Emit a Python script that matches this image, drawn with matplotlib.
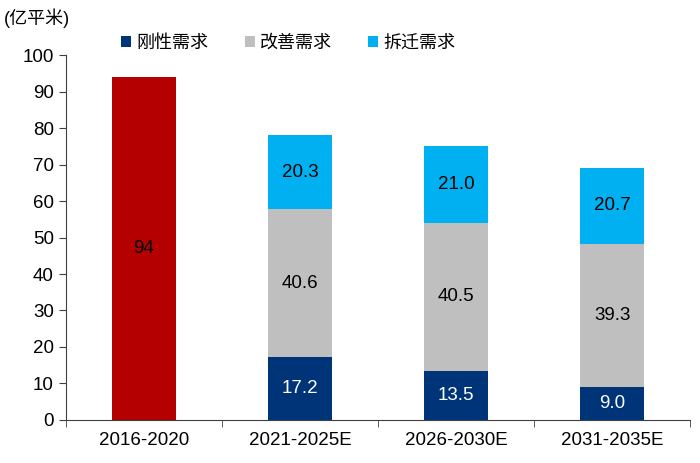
import matplotlib.pyplot as plt
import numpy as np

plt.rcParams['font.family'] = ['Liberation Sans', 'Noto Sans CJK SC']

# data
periods = ['2016-2020', '2021-2025E', '2026-2030E', '2031-2035E']
total_2016 = 94
rigid = [17.2, 13.5, 9.0]
upgrade = [40.6, 40.5, 39.3]
demolish = [20.3, 21.0, 20.7]
series_names = ['刚性需求', '改善需求', '拆迁需求']

c_rigid = '#003478'
c_upgrade = '#BFBFBF'
c_demo = '#00B0F0'
c_red = '#B40000'

fig = plt.figure(figsize=(7, 4.63), dpi=100)
ax = fig.add_axes([0.094, 0.093, 0.892, 0.788])

w = 0.41
x = np.arange(len(periods))
xs = x[1:]

ax.bar(x[0], total_2016, width=w, color=c_red)
b1 = ax.bar(xs, rigid, width=w, color=c_rigid, label=series_names[0])
b2 = ax.bar(xs, upgrade, width=w, bottom=rigid, color=c_upgrade, label=series_names[1])
bot3 = np.array(rigid) + np.array(upgrade)
b3 = ax.bar(xs, demolish, width=w, bottom=bot3, color=c_demo, label=series_names[2])

fs = 13.5
ax.text(x[0], total_2016 / 2, f'{total_2016}', ha='center', va='center', fontsize=fs)
for i, xi in enumerate(xs):
    ax.text(xi, rigid[i] / 2, f'{rigid[i]:.1f}', ha='center', va='center', fontsize=fs, color='white')
    ax.text(xi, rigid[i] + upgrade[i] / 2, f'{upgrade[i]:.1f}', ha='center', va='center', fontsize=fs)
    ax.text(xi, bot3[i] + demolish[i] / 2, f'{demolish[i]:.1f}', ha='center', va='center', fontsize=fs)

ax.set_xlim(-0.5, 3.5)
ax.set_ylim(0, 100)
ax.set_yticks(range(0, 101, 10))
ax.set_xticks(x)
ax.set_xticklabels(periods)
ax.set_xticks(np.arange(-0.5, 3.6, 1), minor=True)
ax.tick_params(axis='x', which='major', length=0, labelsize=fs, pad=9)
ax.tick_params(axis='x', which='minor', length=5, direction='out', color='#404040')
ax.tick_params(axis='y', length=5, direction='out', labelsize=fs, color='#404040')
for s in ['top', 'right']:
    ax.spines[s].set_visible(False)
for s in ['left', 'bottom']:
    ax.spines[s].set_color('#404040')

fig.text(0.005, 0.96, '(亿平米)', fontsize=13, va='center', ha='left')

fig.legend(handles=[b1, b2, b3], loc='center', bbox_to_anchor=(0.412, 0.907), ncol=3,
           frameon=False, fontsize=13, handlelength=0.55, handleheight=0.55,
           handletextpad=0.3, columnspacing=2.0)

fig.savefig('out.png', dpi=100)
